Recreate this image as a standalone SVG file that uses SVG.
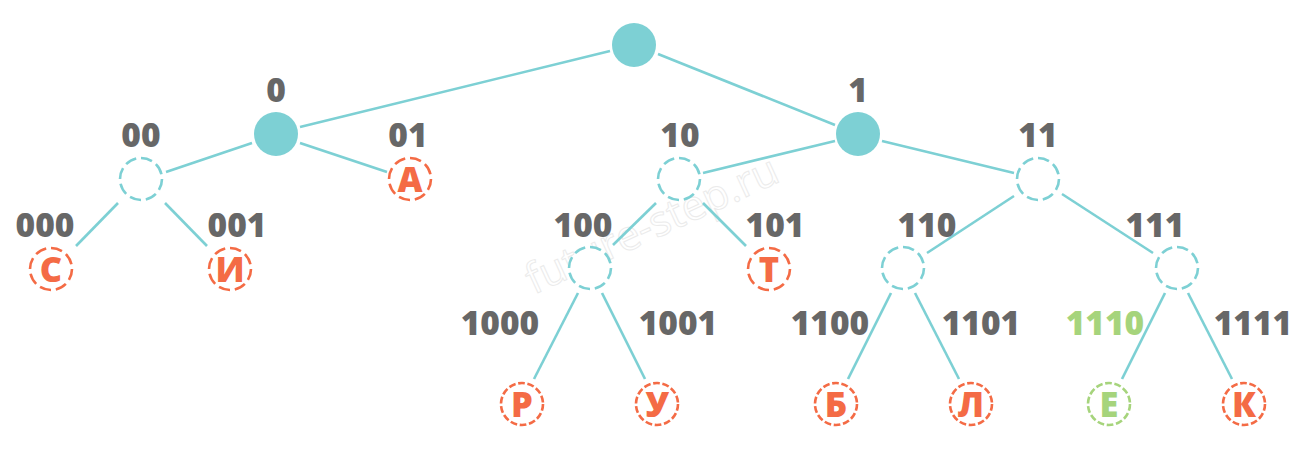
<svg xmlns="http://www.w3.org/2000/svg" width="1300" height="449" viewBox="0 0 1300 449">
<style>
.bg{fill:#ffffff}
.edge{stroke:#7dd0d4;stroke-width:2.6;fill:none;stroke-linecap:butt}
.full{fill:#7dd0d4}
.inner{fill:#ffffff;stroke:#7dd0d4;stroke-width:2.6;stroke-dasharray:7 3}
.leafA{fill:#ffffff;stroke:#f46b45;stroke-width:2.6;stroke-dasharray:7 3}
.leafB{fill:#ffffff;stroke:#f46b45;stroke-width:2.6;stroke-dasharray:5.2 2}
.leafG{fill:#ffffff;stroke:#a6d47c;stroke-width:2.6;stroke-dasharray:5.2 2}
.code{font-family:"Open Sans","Liberation Sans",sans-serif;font-weight:800;font-size:33.5px;fill:#676767;text-anchor:middle}
.codeG{fill:#a6d47c}
.ch{font-family:"Open Sans","Liberation Sans",sans-serif;font-weight:800;font-size:34.5px;fill:#f46b45;text-anchor:middle}
.chG{fill:#a6d47c}
.wm{font-family:"Open Sans","Liberation Sans",sans-serif;font-size:42px;fill:none;stroke:#ebebeb;stroke-width:1;text-anchor:middle}
</style>
<rect class="bg" x="0" y="0" width="1300" height="449"/>
<text class="wm" transform="translate(652,225) rotate(-24.7)" x="0" y="14">future-step.ru</text>
<g id="connectors">
<line class="edge" x1="610" y1="51" x2="300" y2="127"/>
<line class="edge" x1="658" y1="54" x2="835" y2="125"/>
<line class="edge" x1="252" y1="143" x2="166" y2="172"/>
<line class="edge" x1="300" y1="143" x2="387" y2="172"/>
<line class="edge" x1="118" y1="203" x2="76" y2="246"/>
<line class="edge" x1="165" y1="203" x2="207" y2="246"/>
<line class="edge" x1="835" y1="141" x2="703" y2="173"/>
<line class="edge" x1="882" y1="141" x2="1014" y2="173"/>
<line class="edge" x1="656" y1="203" x2="613" y2="245"/>
<line class="edge" x1="703" y1="203" x2="746" y2="246"/>
<line class="edge" x1="1014" y1="196" x2="927" y2="253"/>
<line class="edge" x1="1062" y1="194" x2="1153" y2="253"/>
<line class="edge" x1="578" y1="293" x2="534" y2="379"/>
<line class="edge" x1="602" y1="293" x2="645" y2="379"/>
<line class="edge" x1="891" y1="293" x2="848" y2="379"/>
<line class="edge" x1="915" y1="293" x2="959" y2="379"/>
<line class="edge" x1="1165" y1="293" x2="1122" y2="379"/>
<line class="edge" x1="1188" y1="293" x2="1232" y2="379"/>
</g>
<g id="root"><circle class="full" cx="634" cy="45" r="22"/></g>
<g id="n0"><circle class="full" cx="276" cy="134" r="22"/><text class="code" x="276" y="102">0</text></g>
<g id="n1"><circle class="full" cx="858" cy="134" r="22"/><text class="code" x="858" y="102">1</text></g>
<g id="n00"><circle class="inner" cx="141" cy="179" r="21" pathLength="80"/><text class="code" x="141" y="147">00</text></g>
<g id="n01"><circle class="leafA" cx="410" cy="179" r="21" pathLength="80"/><text class="ch" x="410" y="191.5">А</text><text class="code" x="408" y="147">01</text></g>
<g id="n10"><circle class="inner" cx="679" cy="179" r="21" pathLength="80"/><text class="code" x="680" y="147">10</text></g>
<g id="n11"><circle class="inner" cx="1038" cy="179" r="21" pathLength="80"/><text class="code" x="1038" y="147">11</text></g>
<g id="n000"><circle class="leafA" cx="51" cy="269" r="21" pathLength="80"/><text class="ch" x="51" y="281.5">С</text><text class="code" x="45" y="237">000</text></g>
<g id="n001"><circle class="leafA" cx="230" cy="269" r="21" pathLength="80"/><text class="ch" x="230" y="281.5">И</text><text class="code" x="237" y="237">001</text></g>
<g id="n100"><circle class="inner" cx="590" cy="268" r="21" pathLength="80"/><text class="code" x="583" y="237">100</text></g>
<g id="n101"><circle class="leafA" cx="769" cy="269" r="21" pathLength="80"/><text class="ch" x="769" y="281.5">Т</text><text class="code" x="775" y="237">101</text></g>
<g id="n110"><circle class="inner" cx="903" cy="268" r="21" pathLength="80"/><text class="code" x="927" y="237">110</text></g>
<g id="n111"><circle class="inner" cx="1177" cy="268" r="21" pathLength="80"/><text class="code" x="1155" y="237">111</text></g>
<g id="n1000"><circle class="leafB" cx="522" cy="404" r="21" pathLength="100"/><text class="ch" x="522" y="416.5">Р</text><text class="code" x="500" y="335">1000</text></g>
<g id="n1001"><circle class="leafB" cx="657" cy="404" r="21" pathLength="100"/><text class="ch" x="657" y="416.5">У</text><text class="code" x="678" y="335">1001</text></g>
<g id="n1100"><circle class="leafB" cx="836" cy="404" r="21" pathLength="100"/><text class="ch" x="836" y="416.5">Б</text><text class="code" x="830" y="335">1100</text></g>
<g id="n1101"><circle class="leafB" cx="971" cy="404" r="21" pathLength="100"/><text class="ch" x="971" y="416.5">Л</text><text class="code" x="981" y="335">1101</text></g>
<g id="n1110"><circle class="leafG" cx="1109" cy="404" r="21" pathLength="100"/><text class="ch chG" x="1109" y="416.5">Е</text><text class="code codeG" x="1105" y="335">1110</text></g>
<g id="n1111"><circle class="leafB" cx="1244" cy="404" r="21" pathLength="100"/><text class="ch" x="1244" y="416.5">К</text><text class="code" x="1253" y="335">1111</text></g>
</svg>
